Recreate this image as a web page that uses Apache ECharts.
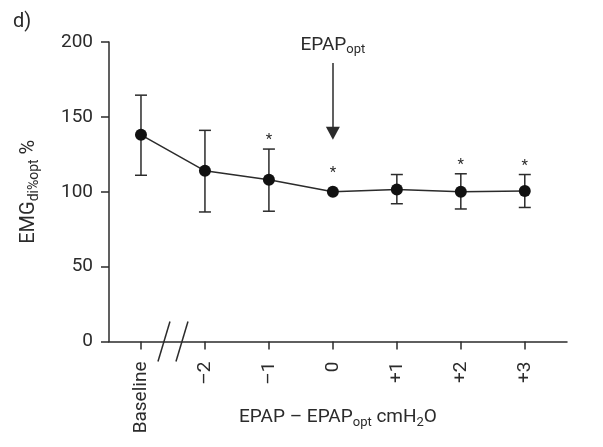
<!DOCTYPE html>
<html>
<head>
<meta charset="utf-8">
<script src="https://cdn.jsdelivr.net/npm/echarts@6/dist/echarts.min.js"></script>
<style>
html, body { margin: 0; padding: 0; background: #fff; }
#chart { width: 603px; height: 447px; }
</style>
</head>
<body>
<div id="chart"></div>
<script>
// x positions: Baseline sits one step left of -2, with an axis break between
var categories = ['Baseline', '–2', '–1', '0', '+1', '+2', '+3'];
var xPos = [-3, -2, -1, 0, 1, 2, 3];
var means = [138, 114, 108, 100, 101.5, 100, 100.5];
var upper = [164.5, 141, 128.5, 100, 111.5, 112, 111.5];
var lower = [111, 86.5, 87, 100, 92, 88.5, 89.5];
var sig = [0, 0, 1, 1, 0, 1, 1];
var yTicks = [0, 50, 100, 150, 200];

var ink = '#2b2b2b';
var font = 'Roboto';

var myChart = echarts.init(document.getElementById('chart'));

var lineData = xPos.map(function (x, i) { return [x, means[i]]; });
var errData = xPos.map(function (x, i) { return [x, lower[i], upper[i], means[i], sig[i]]; });

var option = {
    backgroundColor: '#fff',
    animation: false,
    title: {
        text: 'd)',
        left: 8,
        top: 7,
        textStyle: { fontFamily: font, fontSize: 20, fontWeight: 'normal', color: ink }
    },
    grid: {
        left: 109,
        right: 36,
        top: 42,
        bottom: 105.5,
        outerBoundsMode: 'none'
    },
    xAxis: {
        type: 'value',
        min: -3.5,
        max: 3.66,
        splitLine: { show: false },
        axisLine: { onZero: false, lineStyle: { color: ink, width: 1.5 } },
        axisTick: {
            show: true,
            length: 8,
            customValues: xPos,
            lineStyle: { color: ink, width: 1.5 }
        },
        axisLabel: {
            customValues: xPos,
            rotate: 90,
            margin: 20,
            fontFamily: font,
            fontSize: 19,
            color: ink,
            formatter: function (v) { return categories[xPos.indexOf(v)]; }
        },
        name: '{m|EPAP – EPAP}{s|opt}{m| cmH}{s|2}{m|O}',
        nameLocation: 'middle',
        nameMoveOverlap: false,
        nameGap: 64,
        nameTextStyle: {
            rich: {
                m: { fontFamily: font, fontSize: 19, color: ink, lineHeight: 24 },
                s: { fontFamily: font, fontSize: 13, color: ink, lineHeight: 24, padding: [10, 0, 0, 0] }
            }
        }
    },
    yAxis: {
        type: 'value',
        min: 0,
        max: 200,
        interval: 50,
        splitLine: { show: false },
        axisLine: { show: true, onZero: false, lineStyle: { color: ink, width: 1.5 } },
        axisTick: { show: true, length: 8, lineStyle: { color: ink, width: 1.5 } },
        axisLabel: {
            margin: 16,
            fontFamily: font,
            fontSize: 19,
            color: ink,
            formatter: function (v) { return yTicks.indexOf(v) >= 0 ? String(v) : ''; }
        },
        name: '{m|EMG}{s|di%opt}{m| %}',
        nameLocation: 'middle',
        nameRotate: 90,
        nameMoveOverlap: false,
        nameGap: 68,
        nameTextStyle: {
            rich: {
                m: { fontFamily: font, fontSize: 20, color: ink, lineHeight: 24 },
                s: { fontFamily: font, fontSize: 14, color: ink, lineHeight: 24, padding: [10, 0, 0, 0] }
            }
        }
    },
    series: [
        {
            // error bars and significance stars
            type: 'custom',
            data: errData,
            z: 2,
            renderItem: function (params, api) {
                var x = api.value(0);
                var lo = api.coord([x, api.value(1)]);
                var hi = api.coord([x, api.value(2)]);
                var mid = api.coord([x, api.value(3)]);
                var cap = 6;
                var children = [];
                if (hi[1] < lo[1] - 1) {
                    var st = { stroke: ink, lineWidth: 1.5 };
                    children.push(
                        { type: 'line', shape: { x1: hi[0], y1: hi[1], x2: lo[0], y2: lo[1] }, style: st },
                        { type: 'line', shape: { x1: hi[0] - cap, y1: hi[1], x2: hi[0] + cap, y2: hi[1] }, style: st },
                        { type: 'line', shape: { x1: lo[0] - cap, y1: lo[1], x2: lo[0] + cap, y2: lo[1] }, style: st }
                    );
                }
                if (api.value(4)) {
                    var top = Math.min(hi[1], mid[1] - 10);
                    children.push({
                        type: 'text',
                        style: {
                            text: '*', x: hi[0], y: top - 1,
                            align: 'center', verticalAlign: 'bottom',
                            fontFamily: font, fontSize: 15, fill: ink
                        }
                    });
                }
                return { type: 'group', children: children };
            }
        },
        {
            type: 'line',
            data: lineData,
            z: 3,
            symbol: 'circle',
            symbolSize: 12,
            itemStyle: { color: '#111' },
            lineStyle: { color: ink, width: 1.5 },
            markLine: {
                silent: true,
                symbol: ['none', 'triangle'],
                symbolSize: [14, 13],
                lineStyle: { color: ink, width: 1.5, type: 'solid' },
                label: {
                    show: true,
                    position: 'start',
                    distance: 6,
                    formatter: '{m|EPAP}{s|opt}',
                    rich: {
                        m: { fontFamily: font, fontSize: 19, color: ink, lineHeight: 24 },
                        s: { fontFamily: font, fontSize: 13, color: ink, lineHeight: 24, padding: [10, 0, 0, 0] }
                    }
                },
                data: [[{ coord: [0, 186] }, { coord: [0, 139] }]]
            }
        },
        {
            // axis break marks between Baseline and -2
            type: 'custom',
            data: [[-2.5, 0]],
            silent: true,
            z: 4,
            renderItem: function (params, api) {
                var c = api.coord([api.value(0), api.value(1)]);
                var st = { stroke: ink, lineWidth: 1.5 };
                return {
                    type: 'group',
                    children: [
                        { type: 'line', shape: { x1: c[0] - 15, y1: c[1] + 20, x2: c[0] - 3, y2: c[1] - 20 }, style: st },
                        { type: 'line', shape: { x1: c[0] + 3, y1: c[1] + 20, x2: c[0] + 15, y2: c[1] - 20 }, style: st }
                    ]
                };
            }
        }
    ]
};
myChart.setOption(option);
</script>
</body>
</html>
